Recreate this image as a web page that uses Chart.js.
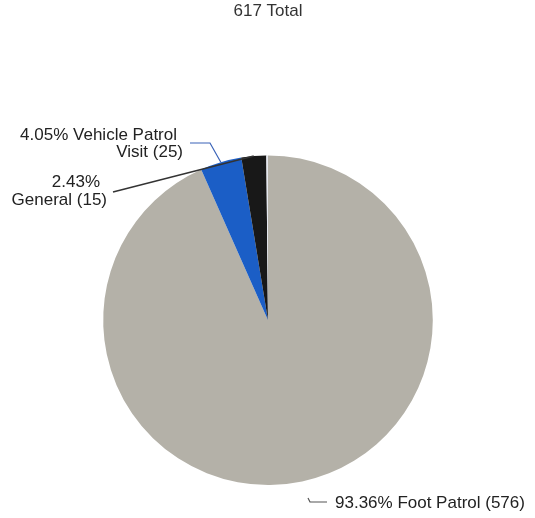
<!DOCTYPE html>
<html>
<head>
<meta charset="utf-8">
<script src="https://cdn.jsdelivr.net/npm/chart.js@4/dist/chart.umd.min.js"></script>
<style>
  html, body { margin: 0; padding: 0; background: #fff; }
  #wrap { width: 535px; height: 518px; }
</style>
</head>
<body>
<div id="wrap"><canvas id="patrolPie"></canvas></div>
<script>
// visit types, clockwise from 12 o'clock
const categories = ['Foot Patrol', 'Vehicle Patrol Visit', 'General', 'Other'];
const visitCounts = [576, 25, 15, 1];
const sliceColors = ['#b4b1a8', '#1b5ec6', '#181818', '#e4e7ee'];
const percentLabels = ['93.36%', '4.05%', '2.43%', ''];
const totalVisits = 617;

const labelFont = '17px "Liberation Sans", Arial, sans-serif';

// point on the rim at the middle of a slice
function rimPoint(arc) {
  const p = arc.getProps(['x', 'y', 'startAngle', 'endAngle', 'outerRadius'], true);
  const mid = (p.startAngle + p.endAngle) / 2;
  return { x: p.x + Math.cos(mid) * p.outerRadius, y: p.y + Math.sin(mid) * p.outerRadius };
}

const calloutPlugin = {
  id: 'callouts',
  afterDatasetsDraw(chart) {
    const ctx = chart.ctx;
    const arcs = chart.getDatasetMeta(0).data;
    ctx.save();
    ctx.font = labelFont;
    ctx.fillStyle = '#222';
    ctx.textBaseline = 'middle';
    ctx.lineWidth = 1.2;

    // Vehicle Patrol Visit - elbow line in blue
    const v = rimPoint(arcs[1]);
    ctx.strokeStyle = '#3a63b8';
    ctx.beginPath();
    ctx.moveTo(190, 143);
    ctx.lineTo(210, 143);
    ctx.lineTo(v.x, v.y);
    ctx.stroke();
    ctx.textAlign = 'right';
    ctx.fillText(percentLabels[1] + ' Vehicle Patrol', 177, 135);
    ctx.fillText('Visit (' + visitCounts[1] + ')', 183, 152);

    // General - straight dark line
    const g = rimPoint(arcs[2]);
    ctx.strokeStyle = '#333';
    ctx.lineWidth = 1.4;
    ctx.beginPath();
    ctx.moveTo(113, 192);
    ctx.lineTo(g.x, g.y);
    ctx.stroke();
    ctx.fillText(percentLabels[2], 100, 182);
    ctx.fillText(categories[2] + ' (' + visitCounts[2] + ')', 107, 200);

    // Foot Patrol - small hook under the pie
    ctx.strokeStyle = '#555';
    ctx.lineWidth = 1.2;
    ctx.beginPath();
    ctx.moveTo(308, 498);
    ctx.lineTo(310, 502);
    ctx.lineTo(327, 502);
    ctx.stroke();
    ctx.textAlign = 'left';
    ctx.fillText(percentLabels[0] + ' ' + categories[0] + ' (' + visitCounts[0] + ')', 335, 503);
    ctx.restore();
  }
};

new Chart(document.getElementById('patrolPie'), {
  type: 'pie',
  data: {
    labels: categories,
    datasets: [{
      data: visitCounts,
      backgroundColor: sliceColors,
      borderWidth: 0
    }]
  },
  options: {
    responsive: true,
    maintainAspectRatio: false,
    animation: false,
    layout: {
      padding: { top: 0, left: 103, right: 102, bottom: 33 }
    },
    plugins: {
      legend: { display: false },
      tooltip: { enabled: false },
      title: {
        display: true,
        text: totalVisits + ' Total',
        color: '#333',
        padding: { top: 1, bottom: 134 },
        font: { family: '"Liberation Sans", Arial, sans-serif', size: 17, weight: 'normal', lineHeight: 1.2 }
      }
    }
  },
  plugins: [calloutPlugin]
});
</script>
</body>
</html>
